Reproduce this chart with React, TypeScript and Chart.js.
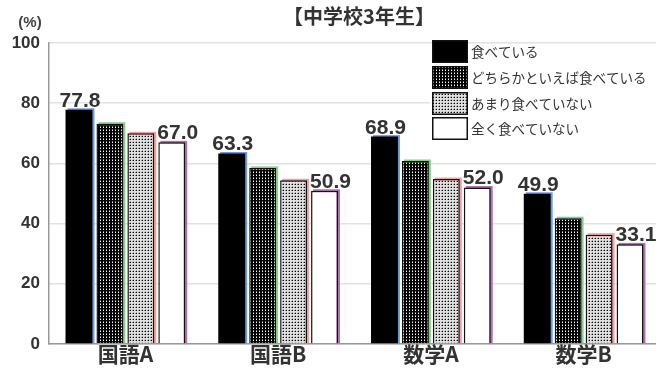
import React, { useEffect, useRef } from "react";
import { Chart, registerables } from "chart.js";
Chart.register(...registerables);

const categories = ["国語A", "国語B", "数学A", "数学B"];
const seriesNames = ["食べている", "どちらかといえば食べている", "あまり食べていない", "全く食べていない"];
const eatEveryday = [77.8, 63.3, 68.9, 49.9];
const eatMostly = [73.2, 58.5, 60.8, 41.8];
const eatRarely = [70.0, 54.4, 54.8, 36.3];
const eatNever = [67.0, 50.9, 52.0, 33.1];
const yTicks = [0, 20, 40, 60, 80, 100];
const titleText = "【中学校3年生】";
const unitText = "(%)";
const shadowColors = ["#6a9ae0", "#8ccf8c", "#f2a0a0", "#b070b0"];

function makePattern(ctx: CanvasRenderingContext2D, kind: "dark" | "light") {
  const c = document.createElement("canvas");
  c.width = 3;
  c.height = 3;
  const g = c.getContext("2d")!;
  if (kind === "dark") {
    g.fillStyle = "#000";
    g.fillRect(0, 0, 3, 3);
    g.fillStyle = "#fff";
    g.fillRect(1, 1, 1, 1);
    g.fillStyle = "#777";
    g.fillRect(1, 0, 1, 1);
  } else {
    g.fillStyle = "#e0e0e0";
    g.fillRect(0, 0, 3, 3);
    g.fillStyle = "#000";
    g.fillRect(1, 1, 1, 1);
    g.fillStyle = "#888";
    g.fillRect(0, 1, 1, 1);
    g.fillStyle = "#aaa";
    g.fillRect(1, 0, 1, 1);
  }
  return ctx.createPattern(c, "repeat")!;
}

export default function App() {
  const ref = useRef<HTMLCanvasElement | null>(null);
  useEffect(() => {
    const canvas = ref.current!;
    const ctx = canvas.getContext("2d")!;
    const dark = makePattern(ctx, "dark");
    const light = makePattern(ctx, "light");
    const fills: any[] = ["#000", dark, light, "#fff"];

    const shadowPlugin = {
      id: "shadow",
      beforeDatasetsDraw(chart: any) {
        const c = chart.ctx;
        c.save();
        chart.data.datasets.forEach((_: any, i: number) => {
          const meta = chart.getDatasetMeta(i);
          meta.data.forEach((bar: any) => {
            const { x, y, base, width } = bar.getProps(["x", "y", "base", "width"], true);
            c.fillStyle = shadowColors[i];
            c.fillRect(x - width / 2 + 2, y - 1.5, width, base - y + 1.5);
          });
        });
        c.restore();
      },
    };

    const labelPlugin = {
      id: "valueLabels",
      afterDatasetsDraw(chart: any) {
        const c = chart.ctx;
        c.save();
        c.font = 'bold 21px "Liberation Sans", Arial, sans-serif';
        c.fillStyle = "#333";
        c.textBaseline = "alphabetic";
        [0, 3].forEach((i) => {
          const meta = chart.getDatasetMeta(i);
          meta.data.forEach((bar: any, j: number) => {
            const { x, y, width } = bar.getProps(["x", "y", "width"], true);
            const v = chart.data.datasets[i].data[j] as number;
            if (i === 0) {
              c.textAlign = "center";
              c.fillText(v.toFixed(1), x + 1, y - 3);
            } else {
              c.textAlign = "left";
              c.fillText(v.toFixed(1), x - width / 2 - 1, y - 3);
            }
          });
        });
        c.restore();
      },
    };

    const decorPlugin = {
      id: "decor",
      afterDraw(chart: any) {
        const c = chart.ctx;
        c.save();
        // title
        c.font = 'bold 20px "Noto Sans CJK JP", sans-serif';
        c.fillStyle = "#333";
        c.textAlign = "center";
        c.textBaseline = "middle";
        c.fillText(titleText, 359, 16);
        // unit
        c.font = 'bold 15px "Liberation Sans", Arial, sans-serif';
        c.fillStyle = "#444";
        c.fillText(unitText, 30, 23);
        // legend
        c.fillStyle = "#fff";
        c.fillRect(430, 46, 230, 96);
        const ys = [40, 66, 92, 117];
        chart.data.datasets.forEach((ds: any, i: number) => {
          const y = ys[i];
          c.fillStyle = fills[i];
          c.fillRect(432, y, 36, 23);
          c.strokeStyle = "#111";
          c.lineWidth = 1.5;
          c.strokeRect(432.75, y + 0.75, 34.5, 21.5);
          c.font = '13.5px "Noto Sans CJK JP", sans-serif';
          c.fillStyle = "#333";
          c.textAlign = "left";
          c.textBaseline = "middle";
          c.fillText(ds.label, 471, y + 12);
        });
        c.restore();
      },
    };

    const chart = new Chart(ctx, {
      type: "bar",
      data: {
        labels: categories,
        datasets: [
          { label: seriesNames[0], data: eatEveryday, backgroundColor: fills[0], borderColor: "#000", borderWidth: 0 },
          { label: seriesNames[1], data: eatMostly, backgroundColor: fills[1], borderColor: "#111", borderWidth: 1.5 },
          { label: seriesNames[2], data: eatRarely, backgroundColor: fills[2], borderColor: "#111", borderWidth: 1.5 },
          { label: seriesNames[3], data: eatNever, backgroundColor: fills[3], borderColor: "#111", borderWidth: 1.5 },
        ],
      },
      options: {
        responsive: false,
        animation: false,
        layout: { padding: { top: 43, right: 0, left: 0, bottom: 0 } },
        datasets: { bar: { categoryPercentage: 0.81, barPercentage: 0.87 } } as any,
        plugins: {
          legend: { display: false },
          title: { display: false },
          tooltip: { enabled: false },
        },
        scales: {
          x: {
            grid: { display: false, drawTicks: false },
            border: { color: "#999", width: 1.5 },
            ticks: {
              color: "#333",
              padding: 0,
              font: { family: '"Noto Sans CJK JP", sans-serif', size: 21, weight: "bold", lineHeight: 1 },
            },
            afterFit: (s: any) => {
              s.height = 27;
            },
          },
          y: {
            min: 0,
            max: 100,
            afterBuildTicks: (s: any) => {
              s.ticks = yTicks.map((v) => ({ value: v }));
            },
            grid: { color: "#e2e2e2", drawTicks: false, lineWidth: 1.5 },
            border: { color: "#999", width: 1.5 },
            ticks: {
              color: "#333",
              padding: 9,
              font: { family: '"Liberation Sans", Arial, sans-serif', size: 17, weight: "bold" },
            },
            afterFit: (s: any) => {
              s.width = 49;
            },
          },
        },
      },
      plugins: [shadowPlugin, labelPlugin, decorPlugin],
    });
    return () => chart.destroy();
  }, []);

  return (
    <div style={{ position: "fixed", left: 0, top: 0, width: 656, height: 371, overflow: "hidden", background: "#fff" }}>
      <canvas ref={ref} width={660} height={371} style={{ display: "block" }} />
    </div>
  );
}
